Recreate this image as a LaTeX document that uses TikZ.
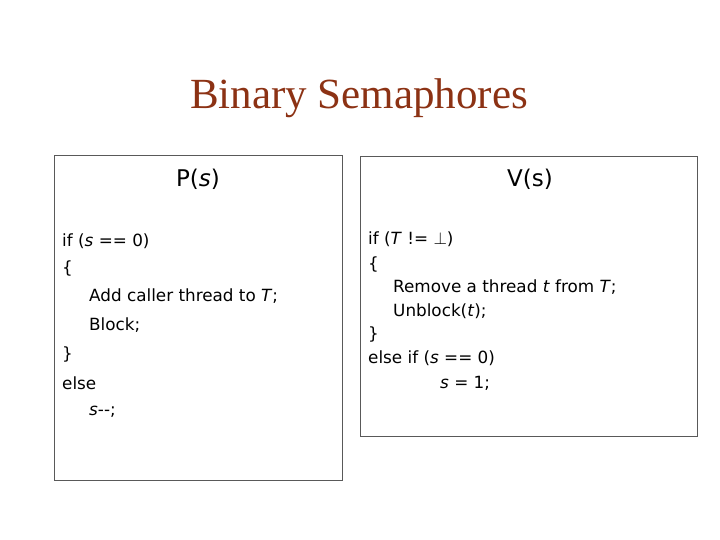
\documentclass[tikz,border=0pt]{standalone}
\usepackage{fontspec}
\setmainfont{Liberation Serif}
\newfontfamily\bodyf{DejaVu Sans}
\begin{document}
\begin{tikzpicture}[x=1pt,y=-1pt,
  box/.style={draw=gray!70!black,line width=0.8pt,fill=white},
  code/.style={anchor=west,font=\bodyf\fontsize{16.8}{20}\selectfont,inner sep=0pt},
  head/.style={anchor=center,font=\bodyf\fontsize{23}{28}\selectfont,inner sep=0pt}]
\useasboundingbox (0,0) rectangle (720,540);
\definecolor{titlec}{RGB}{140,50,20}
\node[font=\fontsize{43}{48}\selectfont,text=titlec] (title) at (359,98) {Binary Semaphores};
\draw[box] (54,155) rectangle (342,480);
\draw[box] (360,156) rectangle (697,436);
\node[head] (p) at (198,179) {P(\textit{s})};
\node[head] (v) at (530,179) {V(s)};
\node[code] (l1) at (62,241) {if (\textit{s} == 0)};
\node[code] (l2) at (62,268) {\{};
\node[code] (l3) at (89,296) {Add caller thread to \textit{T};};
\node[code] (l4) at (89,325) {Block;};
\node[code] (l5) at (62,354) {\}};
\node[code] (l6) at (62,383) {else};
\node[code] (l7) at (89,412) {\textit{s}-{}-;};
\node[code] (r1) at (368,239) {if (\textit{T} != $\perp$)};
\node[code] (r2) at (368,264) {\{};
\node[code] (r3) at (393,287) {Remove a thread \textit{t} from \textit{T};};
\node[code] (r4) at (393,311) {Unblock(\textit{t});};
\node[code] (r5) at (368,334) {\}};
\node[code] (r6) at (368,358) {else if (\textit{s} == 0)};
\node[code] (r7) at (440,383) {\textit{s} = 1;};
\end{tikzpicture}
\end{document}
